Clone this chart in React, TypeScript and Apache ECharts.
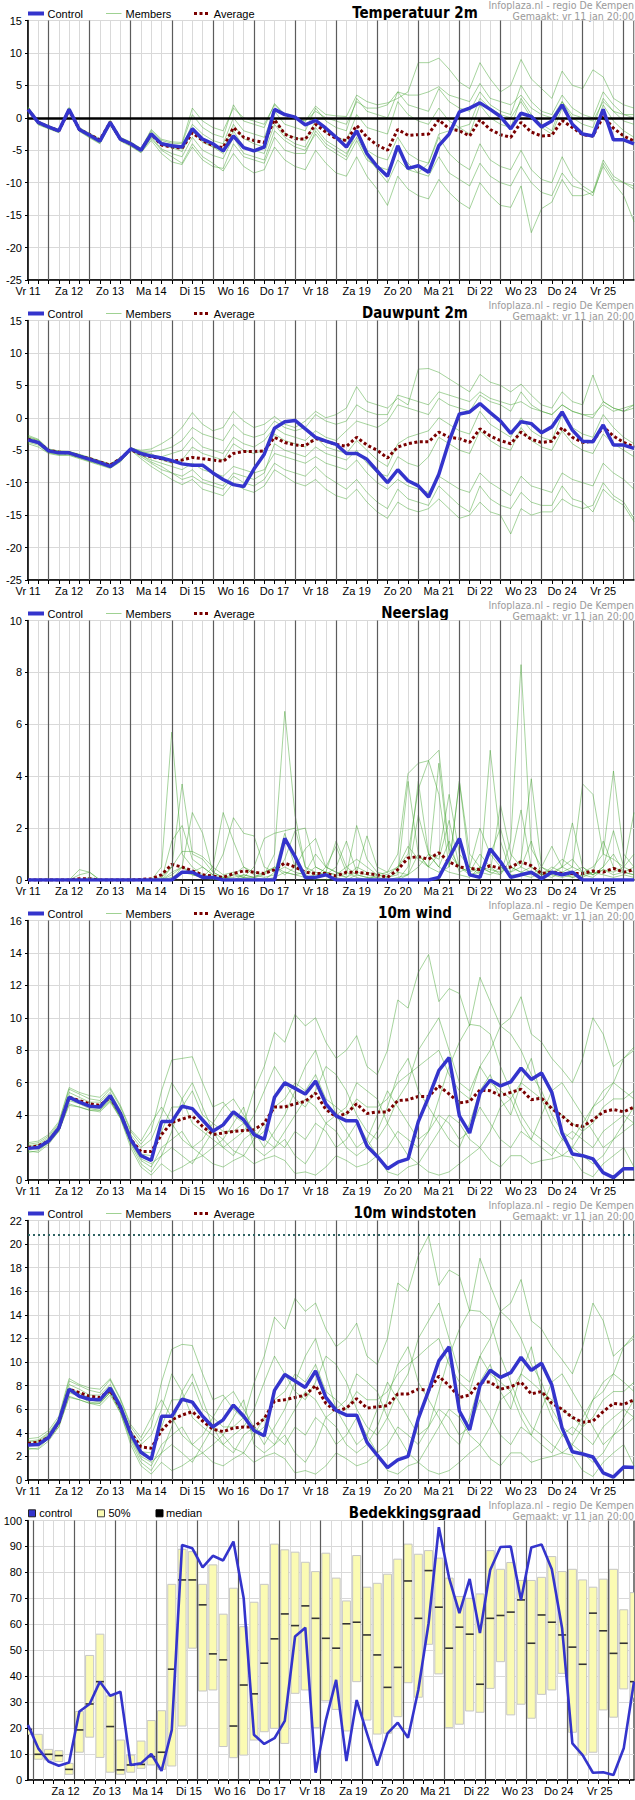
import React, { useEffect, useRef } from "react";
import * as echarts from "echarts";

// ---------- axis / time data ----------
const DAYS = ["Vr 11", "Za 12", "Zo 13", "Ma 14", "Di 15", "Wo 16", "Do 17", "Vr 18", "Za 19", "Zo 20", "Ma 21", "Di 22", "Wo 23", "Do 24", "Vr 25"];
// hours after Fri 11 jan 12:00, 6-hourly steps
const HOURS = Array.from({ length: 60 }, (_, i) => i * 6);
const X_MAX = 354;

const PANEL_TITLES = ["Temperatuur 2m", "Dauwpunt 2m", "Neerslag", "10m wind", "10m windstoten", "Bedekkingsgraad"];
const Y_MIN = [-25, -25, 0, 0, 0, 0];
const Y_MAX = [15, 15, 10, 16, 22, 100];
const Y_STEP = [5, 5, 2, 2, 2, 10];
const GUST_WARNING = 20.8;

// ---------- Temperatuur 2m ----------
const tempControl = [
  1.3, -0.7, -1.4, -2.0, 1.3, -1.8, -2.7, -3.6, -0.7, -3.3, -4.0, -5.0,
  -2.5, -4.0, -4.3, -4.5, -1.7, -3.3, -4.0, -5.1, -2.8, -4.6, -5.1, -4.5,
  1.3, 0.5, 0.1, -1.1, -0.4, -1.6, -3.0, -4.5, -2.0, -5.5, -7.5, -9.0,
  -4.3, -7.8, -7.4, -8.4, -4.3, -2.5, 0.9, 1.5, 2.3, 1.3, 0.2, -1.7,
  0.7, 0.2, -1.4, -0.5, 2.0, -1.0, -2.5, -2.8, 1.3, -3.4, -3.4, -4.0,
];
const tempAverage = [
  1.3, -0.7, -1.4, -2.0, 1.2, -1.8, -2.6, -3.4, -0.7, -3.3, -4.0, -5.0,
  -2.5, -4.2, -4.5, -4.7, -2.3, -3.5, -4.3, -4.6, -1.5, -3.0, -3.5, -3.8,
  -0.3, -2.5, -3.2, -3.3, -1.0, -2.2, -3.2, -3.5, -1.2, -3.0, -4.2, -5.0,
  -1.8, -2.7, -2.6, -2.5, -0.3, -1.7, -2.0, -2.8, -0.3, -1.8, -2.6, -3.0,
  -0.7, -2.2, -2.8, -2.7, -0.4, -1.5, -2.6, -2.8, 0.2, -1.6, -2.8, -3.6,
];
const tempMembers = [
  [1.6, -0.6, -1.3, -1.8, 1.5, -1.6, -2.5, -3.4, -0.5, -3.1, -3.8, -4.8,
    -2.0, -3.5, -3.9, -4.0, 0.5, -1.5, -2.5, -3.0, 2.0, -0.5, -1.0, -1.5,
    2.2, 0.5, 0.0, -0.5, 1.8, 0.5, 0.3, 0.2, 3.5, 2.5, 2.0, 2.3,
    3.0, 4.0, 8.5, 8.5, 9.2, 7.5, 5.5, 4.5, 8.5, 6.0, 4.0, 5.0,
    9.0, 6.0, 4.5, 3.0, 7.2, 5.0, 4.5, 7.4, 6.3, 3.0, 2.0, 1.5],
  [1.2, -1.0, -1.6, -2.2, 1.0, -2.0, -3.0, -3.9, -1.0, -3.5, -4.3, -5.3,
    -3.2, -5.0, -6.0, -7.0, -4.0, -6.0, -7.0, -8.2, -5.5, -7.5, -8.5, -8.0,
    -4.5, -6.5, -7.5, -8.0, -5.0, -7.0, -8.5, -9.0, -6.0, -9.0, -11.0, -13.5,
    -9.0, -11.0, -12.0, -12.5, -9.5, -11.5, -13.0, -14.0, -10.0, -12.0, -13.5, -13.8,
    -10.5, -17.7, -14.0, -13.0, -9.5, -12.0, -12.0, -11.5, -7.5, -10.0, -12.0, -16.0],
  [1.5, -0.7, -1.4, -2.0, 1.2, -1.9, -2.8, -3.7, -0.6, -3.2, -4.0, -5.0,
    -2.2, -3.8, -4.2, -4.4, -1.0, -2.5, -3.5, -4.0, 0.0, -2.0, -2.5, -3.0,
    1.0, -1.0, -1.5, -2.0, 1.5, -0.5, -1.5, -2.0, 3.0, 1.0, 0.5, 0.0,
    4.0, 2.0, 1.5, 1.0, 4.5, 2.5, 1.5, 1.0, 4.0, 2.0, 1.0, 0.5,
    5.0, 2.5, 1.0, 0.5, 3.5, 1.5, 0.5, 0.0, 4.0, 2.0, 0.5, 0.0],
  [1.4, -0.9, -1.5, -2.1, 1.1, -1.7, -2.7, -3.5, -0.8, -3.4, -4.1, -5.1,
    -3.0, -4.8, -5.5, -6.0, -3.0, -5.0, -5.8, -6.3, -3.0, -5.5, -6.0, -6.5,
    -2.0, -3.5, -4.5, -5.0, -2.5, -4.5, -5.5, -6.5, -3.5, -6.5, -7.5, -8.0,
    -5.0, -7.0, -8.5, -9.0, -6.0, -8.5, -9.5, -10.5, -7.0, -9.0, -10.0, -10.5,
    -7.5, -10.0, -11.5, -12.0, -8.5, -10.5, -11.0, -12.0, -7.0, -9.5, -10.0, -11.0],
  [1.3, -0.8, -1.5, -1.9, 1.3, -1.8, -2.6, -3.5, -0.7, -3.3, -3.9, -4.9,
    -2.6, -4.2, -4.6, -5.2, -2.0, -3.8, -4.5, -5.0, -1.0, -3.2, -4.0, -4.5,
    0.0, -2.5, -3.0, -3.5, -0.5, -2.0, -3.0, -3.5, 0.5, -1.5, -2.0, -2.5,
    2.5, 0.5, -0.5, -1.0, 1.5, -0.5, -1.5, -2.5, 2.0, 0.0, -1.0, -1.5,
    3.0, 0.5, -1.0, -2.0, 2.5, 0.0, -1.0, -1.5, 3.0, 1.0, -0.5, -1.0],
  [1.5, -0.7, -1.3, -2.0, 1.4, -1.7, -2.7, -3.6, -0.6, -3.3, -4.1, -5.0,
    -2.4, -4.0, -4.5, -4.8, -1.5, -3.5, -4.5, -5.5, -2.0, -4.5, -5.0, -5.5,
    -1.0, -3.0, -4.0, -4.5, -1.5, -3.5, -4.5, -5.5, -3.0, -6.0, -8.0, -10.0,
    -6.5, -8.0, -8.5, -7.0, -2.5, -2.0, -1.5, -1.0, 3.0, 1.5, 0.5, 0.0,
    2.5, 0.0, -1.5, -2.5, 1.5, -1.0, -2.5, -3.0, 2.0, -0.5, -2.0, -3.0],
  [1.7, -0.5, -1.2, -1.8, 1.6, -1.5, -2.4, -3.2, -0.4, -3.0, -3.7, -4.7,
    -1.8, -3.3, -3.7, -3.8, 1.5, -0.5, -1.5, -2.0, 1.5, 0.0, -0.5, -1.0,
    2.0, 0.5, 0.0, -0.5, 1.0, 0.0, -0.5, -1.0, 2.5, 1.5, 1.5, 2.0,
    4.0, 3.5, 3.5, 4.0, 4.8, 3.5, 3.0, 2.5, 5.3, 3.0, 2.5, 2.0,
    3.5, 1.5, 0.5, 0.0, 2.5, 0.5, 0.0, -0.5, 2.5, 1.0, 0.5, 0.5],
  [1.2, -1.1, -1.7, -2.3, 0.9, -2.1, -3.1, -4.0, -1.1, -3.6, -4.4, -5.4,
    -3.5, -5.5, -6.8, -7.2, -4.5, -6.5, -7.5, -7.8, -4.0, -6.0, -6.5, -7.0,
    -3.0, -5.0, -5.5, -5.5, -2.0, -4.0, -5.0, -6.0, -2.0, -5.0, -6.0, -6.5,
    -3.0, -5.5, -6.5, -7.0, -3.0, -5.5, -7.0, -8.0, -4.0, -6.5, -7.5, -8.0,
    -5.0, -8.0, -9.5, -10.0, -6.0, -9.0, -10.5, -11.5, -6.5, -9.0, -10.0, -10.5],
];

// ---------- Dauwpunt 2m ----------
const dewControl = [
  -3.4, -3.8, -5.1, -5.4, -5.4, -5.9, -6.4, -6.9, -7.5, -6.4, -4.8, -5.5,
  -5.9, -6.2, -6.6, -7.1, -7.3, -7.3, -8.5, -9.5, -10.3, -10.6, -7.9, -5.6,
  -1.6, -0.6, -0.4, -1.7, -3.0, -3.6, -4.1, -5.5, -5.5, -6.4, -8.2, -10.0,
  -8.0, -9.7, -10.5, -12.2, -8.7, -3.6, 0.6, 0.9, 2.2, 0.8, -0.5, -2.4,
  -0.6, -0.9, -2.3, -1.4, 0.9, -1.9, -3.6, -3.7, -1.1, -4.2, -4.2, -4.7,
];
const dewAverage = [
  -3.3, -3.8, -5.0, -5.3, -5.4, -5.9, -6.3, -6.8, -7.3, -6.3, -4.9, -5.6,
  -6.0, -6.3, -6.7, -6.5, -6.1, -6.3, -6.5, -6.7, -5.5, -5.2, -5.2, -5.1,
  -3.0, -3.8, -4.2, -4.3, -3.2, -3.6, -4.1, -4.4, -3.0, -4.2, -5.0, -6.2,
  -4.5, -4.0, -3.7, -3.7, -2.2, -3.0, -3.2, -3.8, -1.7, -2.8, -3.5, -4.0,
  -2.2, -3.3, -3.8, -3.6, -1.5, -3.0, -3.8, -3.6, -1.4, -2.8, -3.8, -4.5,
];
const dewMembers = [
  [-2.7, -3.3, -4.8, -5.1, -5.2, -5.6, -6.1, -6.6, -7.1, -6.1, -4.7, -5.0,
    -4.8, -4.0, -3.0, -1.5, 0.8, -1.0, -2.0, -1.5, 1.0, -0.5, -1.5, -1.0,
    0.2, -1.0, -1.5, -0.5, 1.0, 0.0, 0.5, 1.5, 4.8, 2.5, 2.0, 1.5,
    3.0, 2.0, 7.5, 7.6, 7.0, 6.0, 5.0, 4.0, 6.7, 5.5, 5.0, 4.0,
    5.2, 3.5, 2.0, 1.5, 4.0, 2.5, 2.0, 6.6, 2.5, 1.5, 1.0, 2.0],
  [-4.0, -4.5, -5.5, -5.8, -5.8, -6.3, -6.8, -7.3, -7.8, -6.8, -5.0, -6.3,
    -7.5, -8.5, -9.5, -10.3, -9.5, -11.0, -11.5, -12.0, -10.0, -11.0, -11.5, -10.5,
    -8.0, -9.0, -10.0, -10.5, -9.5, -11.0, -12.0, -12.5, -11.0, -13.0, -14.5, -15.5,
    -13.0, -14.0, -14.5, -14.0, -12.5, -14.0, -15.5, -15.0, -13.0, -14.5, -15.0, -17.9,
    -14.0, -15.0, -14.5, -14.5, -12.5, -13.5, -14.0, -13.5, -10.0, -12.0, -13.0, -15.5],
  [-3.2, -3.7, -5.0, -5.3, -5.3, -5.8, -6.3, -6.8, -7.3, -6.3, -4.8, -5.5,
    -5.8, -6.0, -5.5, -5.0, -3.0, -4.5, -5.0, -5.5, -3.0, -4.0, -4.5, -3.5,
    -1.5, -2.5, -3.0, -3.5, -2.0, -3.0, -3.5, -2.0, -0.5, -1.0, -1.5, -0.5,
    2.0, 1.5, 1.0, 0.5, 3.0, 2.0, 1.5, 1.0, 3.5, 2.5, 2.0, 1.0,
    4.0, 2.0, 1.0, 0.5, 2.0, 1.0, 0.5, 0.0, 2.5, 1.5, 1.0, 1.5],
  [-3.6, -4.0, -5.3, -5.6, -5.6, -6.1, -6.6, -7.1, -7.6, -6.6, -4.9, -5.8,
    -6.5, -7.0, -7.5, -8.0, -7.0, -8.0, -8.5, -9.0, -7.5, -8.0, -8.5, -8.0,
    -5.5, -6.0, -6.5, -7.0, -6.0, -7.0, -7.5, -8.0, -6.5, -8.5, -10.0, -11.0,
    -9.5, -10.5, -11.0, -11.5, -9.0, -10.0, -11.0, -11.5, -8.5, -10.0, -11.0, -12.0,
    -9.0, -10.5, -11.0, -11.5, -8.5, -9.5, -10.0, -10.5, -7.0, -8.5, -9.5, -11.0],
  [-3.0, -3.5, -4.9, -5.2, -5.2, -5.7, -6.2, -6.7, -7.2, -6.2, -4.6, -5.2,
    -5.5, -6.5, -7.0, -6.5, -4.5, -5.5, -6.0, -6.5, -4.0, -5.0, -5.5, -5.0,
    -2.5, -3.5, -4.0, -4.5, -3.0, -4.5, -5.0, -5.5, -3.5, -5.0, -6.5, -7.5,
    -4.0, -3.0, -2.5, -2.0, 0.0, -1.0, -2.0, -2.5, 1.0, -1.0, -2.0, -3.0,
    0.0, -2.0, -3.0, -3.5, 0.5, -1.5, -2.5, -3.0, 0.5, -1.5, -3.0, -4.0],
  [-3.3, -3.9, -5.2, -5.5, -5.5, -6.0, -6.5, -7.0, -7.4, -6.5, -4.8, -5.7,
    -6.8, -7.5, -8.5, -9.0, -8.0, -9.5, -10.0, -10.5, -8.5, -9.0, -9.5, -8.5,
    -4.0, -5.0, -5.5, -6.0, -4.5, -5.5, -6.0, -6.5, -5.0, -7.0, -8.5, -9.0,
    -6.0, -7.0, -7.5, -6.0, -3.0, -4.0, -5.0, -5.5, -2.0, -3.5, -4.5, -5.0,
    -1.5, -3.5, -4.5, -5.0, -2.0, -4.0, -5.0, -5.5, -2.5, -4.0, -5.0, -6.0],
  [-2.9, -3.4, -4.9, -5.2, -5.3, -5.7, -6.2, -6.7, -7.2, -6.2, -4.6, -5.3,
    -5.2, -5.0, -4.5, -3.5, -1.5, -2.5, -3.0, -3.5, -1.0, -2.5, -3.0, -2.5,
    -0.5, -1.5, -2.0, -1.5, 0.5, -0.5, -1.0, -0.5, 2.0, 1.0, 0.5, 0.5,
    3.5, 3.0, 2.5, 2.0, 4.0, 3.5, 3.0, 2.5, 4.0, 3.0, 2.5, 2.0,
    2.5, 1.5, 1.0, 0.5, 2.0, 1.0, 0.5, 0.5, 2.0, 1.0, 1.5, 2.0],
  [-3.8, -4.2, -5.4, -5.7, -5.7, -6.2, -6.7, -7.2, -7.7, -6.7, -5.0, -6.0,
    -7.0, -8.0, -8.5, -9.5, -9.0, -10.0, -10.5, -11.0, -9.0, -10.0, -10.5, -9.5,
    -7.0, -8.0, -8.5, -9.0, -7.5, -9.0, -10.0, -11.0, -9.5, -11.5, -13.0, -14.0,
    -11.0, -12.5, -13.0, -13.5, -10.5, -12.0, -13.5, -14.5, -10.5, -12.5, -13.5, -14.0,
    -11.5, -13.0, -13.5, -13.5, -10.5, -12.5, -13.0, -14.5, -11.0, -12.5, -13.5, -16.0],
];

// ---------- Neerslag ----------
const rainControl = [
  0, 0, 0, 0, 0, 0, 0, 0, 0, 0, 0, 0,
  0, 0, 0, 0.3, 0.3, 0.1, 0.1, 0, 0, 0, 0, 0,
  0, 1.6, 0.9, 0.1, 0.1, 0.2, 0, 0, 0, 0, 0, 0,
  0, 0, 0, 0, 0.1, 0.85, 1.6, 0.2, 0.1, 1.2, 0.7, 0.1,
  0.2, 0.3, 0.05, 0.3, 0.2, 0.3, 0, 0, 0, 0, 0, 0,
];
const rainAverage = [
  0, 0, 0, 0, 0, 0.05, 0.05, 0, 0, 0, 0, 0.02,
  0.05, 0.2, 0.6, 0.5, 0.35, 0.2, 0.15, 0.1, 0.25, 0.35, 0.3, 0.25,
  0.4, 0.65, 0.5, 0.3, 0.25, 0.25, 0.15, 0.3, 0.3, 0.25, 0.2, 0.1,
  0.4, 0.85, 0.9, 0.8, 1.05, 0.7, 0.5, 0.45, 0.4, 0.55, 0.45, 0.5,
  0.7, 0.55, 0.25, 0.3, 0.25, 0.25, 0.25, 0.35, 0.3, 0.45, 0.3, 0.4,
];
const rainMembers = [
  [0, 0, 0, 0, 0, 0, 0, 0, 0, 0, 0, 0,
    0, 0.5, 5.7, 1.0, 0.5, 0.2, 0.1, 0, 0, 0.2, 0.1, 0,
    0.3, 1.8, 0.5, 0.2, 0, 0, 0.1, 0, 0.2, 0.1, 0, 0,
    0, 0.5, 3.8, 1.0, 0.5, 1.5, 0.3, 0.5, 0.2, 5.0, 1.5, 0.3,
    0.5, 1.5, 0.2, 0.1, 0.3, 0.1, 0.2, 0.1, 0.4, 0.2, 0.3, 0.2],
  [0, 0, 0, 0, 0, 0.4, 0.3, 0, 0, 0, 0, 0,
    0, 0, 0.5, 3.7, 1.0, 0.8, 0.3, 0.1, 0.2, 0.5, 0.3, 0.2,
    1.0, 6.5, 2.5, 0.5, 0.3, 0.2, 0.5, 1.5, 0.3, 0.2, 0.1, 0,
    0.1, 0.2, 1.0, 0.5, 4.5, 1.0, 0.5, 0.3, 1.0, 0.5, 0.2, 0.8,
    2.7, 0.5, 0.2, 0.3, 0.5, 2.2, 0.5, 0.2, 0.5, 1.0, 0.3, 0.5],
  [0, 0, 0, 0, 0, 0.2, 0.3, 0, 0, 0, 0, 0,
    0, 0, 0.2, 0.5, 0.3, 0.5, 0.2, 1.0, 2.4, 1.8, 1.7, 0.5,
    0.3, 0.5, 0.3, 0.2, 0.5, 0.3, 1.5, 0.5, 0.2, 0.1, 0.1, 0,
    0, 0.2, 0.5, 1.0, 0.5, 0.3, 0.2, 0.1, 0.5, 0.3, 0.2, 1.5,
    8.3, 1.2, 0.5, 0.3, 0.2, 0.1, 0.2, 0.3, 1.5, 0.5, 0.3, 0.2],
  [0, 0, 0, 0, 0, 0, 0, 0, 0, 0, 0, 0,
    0, 0, 1.5, 2.1, 0.8, 0.5, 0.2, 0.1, 0.1, 0.2, 0.1, 0.3,
    0.5, 0.3, 0.2, 0.3, 1.0, 0.5, 0.3, 0.2, 2.1, 0.8, 0.3, 0.2,
    0.5, 1.0, 3.5, 4.6, 5.0, 1.2, 0.5, 0.3, 0.5, 0.4, 0.3, 0.5,
    0.3, 0.5, 0.2, 0.4, 0.8, 0.5, 0.3, 0.5, 1.0, 0.8, 0.5, 2.6],
  [0, 0, 0, 0, 0, 0, 0.1, 0, 0, 0, 0, 0,
    0, 0, 0.3, 0.5, 0.2, 0.1, 0.5, 2.6, 1.5, 0.5, 0.2, 0.1,
    0.2, 0.8, 1.9, 2.0, 0.5, 0.3, 0.2, 0.5, 0.8, 0.5, 0.2, 0.1,
    0.2, 3.8, 1.0, 0.5, 0.3, 0.5, 3.8, 1.0, 0.5, 0.3, 2.9, 1.0,
    0.5, 0.3, 0.2, 0.5, 0.3, 0.5, 3.7, 3.3, 1.0, 4.2, 1.0, 0.5],
  [0, 0, 0, 0, 0, 0, 0, 0, 0, 0, 0, 0,
    0, 0.1, 0.5, 1.1, 1.1, 0.9, 0.5, 0.2, 0.3, 0.1, 0.1, 0.2,
    0.5, 0.2, 0.5, 1.2, 1.6, 0.5, 0.3, 0.1, 0.3, 1.7, 0.5, 0.3,
    0.5, 1.3, 0.8, 0.5, 1.0, 3.3, 1.0, 0.5, 2.0, 1.0, 0.5, 0.3,
    0.8, 3.9, 0.5, 0.2, 0.5, 0.8, 0.3, 0.2, 0.5, 1.9, 0.5, 0.3],
  [0, 0, 0, 0, 0, 0, 0, 0, 0, 0, 0, 0,
    0, 0, 0.1, 0.3, 0.2, 0.1, 0, 0, 0.2, 0.1, 0, 0,
    0.1, 0.3, 0.2, 0.1, 0.2, 0.3, 0.2, 0.1, 0.5, 0.3, 0.2, 0.1,
    0.3, 0.2, 2.5, 1.0, 0.8, 2.3, 0.5, 0.2, 0.3, 0.2, 0.5, 0.2,
    0.2, 0.1, 0.3, 0.2, 0.1, 0.2, 0.1, 0.3, 0.2, 0.1, 0.2, 0.1],
  [0, 0, 0, 0, 0, 0, 0, 0, 0, 0, 0, 0,
    0, 0, 0, 0.5, 2.6, 1.8, 0.3, 0.1, 0, 0.1, 0.5, 1.6,
    1.8, 1.9, 2.0, 0.5, 0.1, 0.5, 1.3, 0.3, 0.1, 0, 0.2, 0.3,
    1.0, 4.1, 4.5, 4.6, 3.3, 0.5, 3.8, 0.5, 0.3, 1.0, 2.0, 0.5,
    0.3, 0.2, 0.5, 1.3, 0.5, 0.3, 0.5, 0.2, 0.4, 0.3, 0.5, 1.0],
];

// ---------- 10m wind ----------
const windControl = [
  1.95, 2.0, 2.4, 3.2, 5.1, 4.8, 4.55, 4.5, 5.2, 4.1, 2.5, 1.5,
  1.2, 3.6, 3.6, 4.55, 4.4, 3.7, 3.0, 3.4, 4.2, 3.7, 2.8, 2.5,
  5.1, 6.0, 5.65, 5.3, 6.1, 4.7, 3.95, 3.65, 3.65, 2.1, 1.45, 0.7,
  1.1, 1.3, 3.6, 5.1, 6.75, 7.55, 3.95, 2.9, 5.35, 6.15, 5.8, 6.05,
  6.9, 6.2, 6.6, 5.4, 2.9, 1.6, 1.5, 1.3, 0.45, 0.15, 0.7, 0.7,
];
const windAverage = [
  2.0, 2.1, 2.4, 3.2, 5.1, 4.9, 4.7, 4.6, 5.1, 4.1, 2.5, 1.75,
  1.75, 2.8, 3.55, 3.75, 3.95, 3.3, 2.8, 2.9, 3.0, 3.05, 3.1, 3.5,
  4.5, 4.5, 4.7, 4.85, 5.35, 4.35, 3.9, 4.1, 4.7, 4.1, 4.2, 4.2,
  4.9, 4.95, 5.15, 5.15, 5.8, 5.3, 4.75, 4.85, 5.55, 5.5, 5.2, 5.4,
  5.6, 4.95, 5.05, 4.4, 3.95, 3.4, 3.3, 3.7, 4.2, 4.35, 4.2, 4.5,
];
const windMembers = [
  [2.2, 2.3, 2.7, 3.5, 5.6, 5.3, 5.0, 4.9, 5.6, 4.5, 3.0, 2.2,
    3.0, 5.5, 7.4, 7.5, 7.6, 6.0, 4.5, 4.8, 4.0, 3.5, 5.5, 7.0,
    9.1, 8.5, 10.2, 9.5, 10.0, 8.5, 7.5, 8.0, 8.9, 7.0, 6.5, 8.0,
    11.1, 10.6, 12.8, 13.9, 11.0, 11.8, 11.5, 9.5, 12.5, 11.0, 9.5, 10.0,
    11.3, 9.0, 8.5, 7.5, 6.8, 6.0, 7.5, 10.0, 9.0, 7.0, 7.5, 8.2],
  [1.8, 1.7, 2.2, 3.0, 4.6, 4.5, 4.3, 4.2, 4.8, 3.8, 2.0, 0.8,
    0.3, 1.0, 0.5, 0.8, 1.2, 1.5, 1.0, 0.8, 1.2, 1.5, 1.0, 1.3,
    1.5, 1.2, 0.4, 0.5, 0.3, 0.8, 1.5, 1.2, 0.8, 1.0, 1.5, 0.5,
    0.3, 0.8, 1.0, 0.5, 0.3, 0.5, 1.0, 1.5, 2.0, 1.2, 0.8, 1.5,
    1.5, 1.0, 1.2, 1.3, 1.5, 1.4, 0.5, 0.2, 1.0, 1.5, 2.0, 0.8],
  [2.0, 2.1, 2.5, 3.3, 5.2, 4.9, 4.6, 4.5, 5.1, 4.0, 2.6, 1.6,
    1.5, 3.0, 4.5, 4.5, 5.5, 4.0, 3.5, 3.0, 3.0, 3.5, 2.5, 3.0,
    4.5, 5.0, 6.0, 5.5, 6.5, 5.0, 4.5, 4.0, 5.0, 4.5, 4.5, 5.0,
    6.0, 6.5, 7.0, 7.5, 8.0, 6.5, 5.5, 5.0, 7.0, 6.0, 5.5, 5.0,
    6.0, 5.5, 5.0, 4.5, 4.0, 3.5, 3.0, 3.5, 4.5, 5.0, 5.0, 5.5],
  [1.9, 2.0, 2.4, 3.1, 4.9, 4.7, 4.4, 4.3, 4.9, 3.9, 2.3, 1.2,
    0.8, 2.0, 2.5, 3.0, 2.0, 1.5, 2.0, 2.5, 1.8, 1.5, 2.5, 3.5,
    2.5, 2.0, 3.0, 2.5, 3.5, 3.0, 2.0, 2.5, 3.5, 2.5, 1.5, 2.0,
    3.0, 2.5, 2.0, 3.0, 4.0, 3.5, 2.5, 3.0, 4.5, 3.5, 2.5, 2.0,
    3.0, 2.5, 2.0, 1.5, 2.5, 3.0, 2.5, 2.0, 3.0, 3.5, 4.0, 3.5],
  [2.1, 2.2, 2.6, 3.4, 5.4, 5.1, 4.8, 4.8, 5.4, 4.3, 2.8, 2.0,
    2.5, 4.0, 6.0, 5.0, 3.5, 3.0, 2.5, 2.0, 2.5, 3.0, 4.0, 5.5,
    7.0, 6.0, 5.0, 4.5, 5.5, 7.0, 6.5, 5.5, 4.0, 3.0, 2.5, 3.5,
    5.0, 6.0, 8.0, 9.0, 10.0, 8.0, 6.0, 5.5, 7.0, 8.0, 9.5, 9.0,
    8.0, 6.5, 5.5, 4.0, 3.0, 2.5, 3.5, 4.5, 5.0, 6.0, 7.5, 8.0],
  [2.0, 1.9, 2.3, 3.2, 5.0, 4.8, 4.5, 4.4, 5.0, 3.9, 2.4, 1.3,
    1.0, 1.5, 3.0, 5.0, 6.0, 4.5, 3.0, 2.0, 1.5, 2.5, 3.0, 2.0,
    3.0, 4.0, 5.5, 7.0, 8.0, 6.0, 4.0, 3.0, 2.0, 2.5, 4.0, 5.5,
    4.5, 3.5, 2.5, 3.0, 5.0, 7.0, 8.5, 9.6, 9.5, 9.0, 7.0, 5.5,
    4.0, 3.0, 2.5, 2.0, 1.5, 2.0, 3.0, 4.5, 5.5, 6.0, 5.5, 5.0],
  [2.3, 2.4, 2.8, 3.6, 5.7, 5.4, 5.2, 5.1, 5.7, 4.6, 3.1, 2.4,
    3.5, 4.5, 3.5, 2.5, 2.0, 2.5, 3.5, 4.5, 5.0, 4.0, 3.0, 2.5,
    2.0, 3.0, 4.0, 5.0, 4.5, 3.5, 3.0, 2.0, 1.5, 2.0, 3.0, 4.5,
    6.5, 7.5, 5.5, 4.5, 3.5, 2.5, 2.0, 3.5, 5.5, 6.5, 5.0, 4.0,
    6.0, 7.5, 5.0, 3.5, 2.5, 2.0, 1.5, 1.0, 1.5, 2.5, 3.5, 4.5],
  [1.7, 1.8, 2.3, 3.0, 4.7, 4.5, 4.3, 4.3, 4.9, 3.8, 2.2, 1.0,
    0.5, 1.5, 2.0, 1.5, 1.0, 2.0, 3.0, 2.5, 3.5, 4.5, 2.0, 1.5,
    2.0, 2.5, 1.5, 1.0, 2.0, 3.5, 4.0, 4.5, 6.0, 5.5, 5.0, 3.5,
    2.5, 1.5, 1.0, 2.0, 3.0, 4.0, 3.5, 2.5, 2.0, 3.0, 4.5, 5.0,
    3.5, 2.5, 4.0, 5.5, 6.0, 5.0, 4.0, 3.0, 2.0, 2.5, 3.0, 3.5],
];

// ---------- 10m windstoten ----------
const gustControl = [
  2.97, 3.0, 3.6, 4.95, 7.7, 7.1, 6.85, 6.8, 7.8, 6.2, 3.9, 2.35,
  1.75, 5.4, 5.4, 6.85, 6.6, 5.4, 4.5, 5.1, 6.35, 5.4, 4.2, 3.75,
  7.6, 8.95, 8.4, 7.85, 9.25, 7.0, 5.9, 5.5, 5.5, 3.2, 2.1, 1.05,
  1.7, 2.0, 5.2, 7.55, 10.1, 11.3, 5.85, 4.25, 8.0, 9.3, 8.7, 9.1,
  10.4, 9.3, 9.9, 8.05, 4.4, 2.4, 2.2, 1.95, 0.6, 0.25, 1.1, 1.05,
];
const gustAverage = [
  3.1, 3.2, 3.6, 4.9, 7.7, 7.4, 7.1, 7.0, 7.6, 6.1, 4.0, 2.8,
  2.7, 4.2, 5.1, 5.5, 5.8, 5.0, 4.3, 4.1, 4.4, 4.5, 4.5, 5.2,
  6.7, 6.8, 7.0, 7.2, 8.0, 6.5, 5.8, 6.1, 6.9, 6.1, 6.2, 6.3,
  7.3, 7.3, 7.7, 7.6, 8.8, 8.0, 7.0, 7.2, 8.3, 8.3, 7.7, 7.9,
  8.3, 7.3, 7.5, 6.5, 6.0, 5.3, 4.9, 5.0, 5.8, 6.5, 6.4, 6.8,
];
const gustMembers = [
  [3.3, 3.4, 4.0, 5.2, 8.4, 8.0, 7.6, 7.4, 8.5, 6.8, 4.5, 3.3,
    4.5, 8.3, 11.1, 11.5, 11.4, 9.0, 6.8, 7.2, 6.0, 5.2, 8.2, 10.5,
    13.8, 12.8, 15.4, 14.3, 15.0, 12.8, 11.3, 12.0, 13.3, 10.5, 9.8, 12.0,
    16.7, 16.0, 19.0, 20.7, 16.5, 17.8, 17.3, 14.3, 18.8, 16.5, 14.3, 15.0,
    17.0, 13.5, 12.8, 11.3, 10.2, 9.0, 11.3, 15.0, 13.5, 10.5, 11.3, 12.3],
  [2.7, 2.6, 3.3, 4.5, 7.0, 6.8, 6.5, 6.3, 7.2, 5.7, 3.0, 1.2,
    0.5, 1.5, 0.8, 1.2, 1.8, 2.3, 1.5, 1.2, 1.8, 2.3, 1.5, 2.0,
    2.3, 1.8, 0.6, 0.8, 0.5, 1.2, 2.3, 1.8, 1.2, 1.5, 2.3, 0.8,
    0.5, 1.2, 1.5, 0.8, 0.5, 0.8, 1.5, 2.3, 3.0, 1.8, 1.2, 2.3,
    2.3, 1.5, 1.8, 2.0, 2.3, 2.1, 0.8, 0.3, 1.5, 2.3, 3.0, 1.2],
  [3.0, 3.2, 3.8, 5.0, 7.8, 7.4, 6.9, 6.8, 7.7, 6.0, 3.9, 2.4,
    2.3, 4.5, 6.8, 6.8, 8.3, 6.0, 5.3, 4.5, 4.5, 5.3, 3.8, 4.5,
    6.8, 7.5, 9.0, 8.3, 9.8, 7.5, 6.8, 6.0, 7.5, 6.8, 6.8, 7.5,
    9.0, 9.8, 10.5, 11.3, 12.0, 9.8, 8.3, 7.5, 10.5, 9.0, 8.3, 7.5,
    9.0, 8.3, 7.5, 6.8, 6.0, 5.3, 4.5, 5.3, 6.8, 7.5, 7.5, 8.3],
  [2.9, 3.0, 3.6, 4.7, 7.4, 7.1, 6.6, 6.5, 7.4, 5.9, 3.5, 1.8,
    1.2, 3.0, 3.8, 4.5, 3.0, 2.3, 3.0, 3.8, 2.7, 2.3, 3.8, 5.3,
    3.8, 3.0, 4.5, 3.8, 5.3, 4.5, 3.0, 3.8, 5.3, 3.8, 2.3, 3.0,
    4.5, 3.8, 3.0, 4.5, 6.0, 5.3, 3.8, 4.5, 6.8, 5.3, 3.8, 3.0,
    4.5, 3.8, 3.0, 2.3, 3.8, 4.5, 3.8, 3.0, 4.5, 5.3, 6.0, 5.3],
  [3.2, 3.3, 3.9, 5.1, 8.1, 7.7, 7.2, 7.2, 8.1, 6.5, 4.2, 3.0,
    3.8, 6.0, 9.0, 7.5, 5.3, 4.5, 3.8, 3.0, 3.8, 4.5, 6.0, 8.3,
    10.5, 9.0, 7.5, 6.8, 8.3, 10.5, 9.8, 8.3, 6.0, 4.5, 3.8, 5.3,
    7.5, 9.0, 12.0, 13.5, 15.0, 12.0, 9.0, 8.3, 10.5, 12.0, 14.3, 13.5,
    12.0, 9.8, 8.3, 6.0, 4.5, 3.8, 5.3, 6.8, 7.5, 9.0, 11.3, 12.0],
  [3.0, 2.9, 3.5, 4.8, 7.5, 7.2, 6.8, 6.6, 7.5, 5.9, 3.6, 2.0,
    1.5, 2.3, 4.5, 7.5, 9.0, 6.8, 4.5, 3.0, 2.3, 3.8, 4.5, 3.0,
    4.5, 6.0, 8.3, 10.5, 12.0, 9.0, 6.0, 4.5, 3.0, 3.8, 6.0, 8.3,
    6.8, 5.3, 3.8, 4.5, 7.5, 10.5, 12.8, 14.4, 14.3, 13.5, 10.5, 8.3,
    6.0, 4.5, 3.8, 3.0, 2.3, 3.0, 4.5, 6.8, 8.3, 9.0, 8.3, 7.5],
  [3.5, 3.6, 4.2, 5.4, 8.6, 8.1, 7.8, 7.7, 8.6, 6.9, 4.7, 3.6,
    5.3, 6.8, 5.3, 3.8, 3.0, 3.8, 5.3, 6.8, 7.5, 6.0, 4.5, 3.8,
    3.0, 4.5, 6.0, 7.5, 6.8, 5.3, 4.5, 3.0, 2.3, 3.0, 4.5, 6.8,
    9.8, 11.3, 8.3, 6.8, 5.3, 3.8, 3.0, 5.3, 8.3, 9.8, 7.5, 6.0,
    9.0, 11.3, 7.5, 5.3, 3.8, 3.0, 2.3, 1.5, 2.3, 3.8, 5.3, 6.8],
  [2.6, 2.7, 3.5, 4.5, 7.1, 6.8, 6.5, 6.5, 7.4, 5.7, 3.3, 1.5,
    0.8, 2.3, 3.0, 2.3, 1.5, 3.0, 4.5, 3.8, 5.3, 6.8, 3.0, 2.3,
    3.0, 3.8, 2.3, 1.5, 3.0, 5.3, 6.0, 6.8, 9.0, 8.3, 7.5, 5.3,
    3.8, 2.3, 1.5, 3.0, 4.5, 6.0, 5.3, 3.8, 3.0, 4.5, 6.8, 7.5,
    5.3, 3.8, 6.0, 8.3, 9.0, 7.5, 6.0, 4.5, 3.0, 3.8, 4.5, 5.3],
];

// ---------- Bedekkingsgraad ----------
const cloudControl = [
  21.2, 12.2, 7.1, 5.5, 6.7, 26.4, 29.3, 37.9, 32.5, 34.0,
  5.8, 6.4, 10.0, 3.5, 19.3, 90.6, 89.3, 81.9, 86.4, 84.6,
  91.9, 70.0, 17.4, 13.9, 16.1, 22.8, 55.3, 58.7, 2.8, 23.1,
  38.6, 7.3, 30.8, 18.0, 5.5, 18.0, 22.1, 16.3, 34.7, 60.4,
  97.4, 77.8, 64.3, 77.5, 56.6, 80.9, 89.8, 90.0, 69.4, 89.6,
  90.8, 81.2, 58.5, 14.1, 9.6, 2.8, 3.0, 1.9, 12.2, 37.9,
];
const cloudLow = [
  17.6, 8.0, 7.7, 7.1, 2.2, 10.7, 16.5, 8.7, 3.0, 2.2,
  3.0, 4.5, 5.8, 4.1, 5.4, 20.8, 50.8, 34.3, 34.7, 12.9,
  8.6, 9.6, 15.4, 18.6, 19.9, 14.1, 33.4, 34.7, 20.2, 30.5,
  27.2, 18.9, 37.9, 23.1, 17.7, 18.0, 24.4, 37.5, 31.9, 52.3,
  40.9, 20.2, 21.5, 26.6, 26.1, 35.3, 45.6, 25.1, 29.2, 23.8,
  33.0, 34.7, 41.1, 18.4, 9.6, 10.7, 27.0, 24.2, 35.1, 31.7,
];
const cloudHigh = [
  19.9, 17.6, 11.8, 11.3, 6.4, 26.4, 48.0, 56.2, 32.4, 15.4,
  9.6, 15.0, 22.9, 26.7, 75.4, 88.9, 88.0, 75.4, 82.9, 63.9,
  73.9, 59.1, 68.5, 75.4, 90.9, 88.7, 87.8, 83.9, 80.3, 87.4,
  77.8, 69.0, 86.5, 74.3, 75.8, 79.3, 85.1, 90.9, 87.0, 88.4,
  85.5, 77.8, 70.7, 70.0, 71.7, 88.4, 81.2, 83.8, 76.9, 76.9,
  78.1, 86.1, 80.3, 81.2, 77.1, 74.3, 77.4, 81.2, 65.6, 72.2,
];
const cloudMedian = [
  19.5, 9.9, 9.9, 9.4, 4.1, 19.3, 29.3, 37.9, 20.6, 3.9,
  5.8, 6.0, 9.0, 10.7, 42.7, 77.1, 77.1, 67.5, 48.6, 46.3,
  20.8, 36.6, 33.2, 45.0, 54.4, 64.0, 59.5, 67.1, 62.3, 54.6,
  50.8, 60.2, 60.8, 55.9, 48.2, 35.7, 43.4, 76.7, 62.3, 80.7,
  66.6, 50.8, 58.9, 56.2, 36.9, 62.3, 63.4, 64.7, 69.4, 52.7,
  63.6, 60.8, 55.9, 51.2, 44.6, 64.3, 57.5, 48.8, 52.7, 37.9,
];

// ---------- styling ----------
const FONT = "'Liberation Sans', Arial, Helvetica, sans-serif";
const NARROW = "'Liberation Sans Narrow', 'Arial Narrow', 'DejaVu Sans Condensed', 'Liberation Sans', Arial, sans-serif";
const BLUE = "#3434cc";
const DARKRED = "#7a0000";
const MEMBER = "rgba(70,165,50,0.48)";
const MEMBER_KEY = "#9fd292";
const GRID_C = "#d9d9d9";
const DAY_C = "#5c5c5c";
const BOX_FILL = "#fbfbb3";
const BOX_EDGE = "#c6c6c6";

const PH = 300;
const TOP = 20.5;
const PLOT_H = 259.5;
const LEFT = 28;
const RIGHT = 1;
const BOX_HOURS = 4.7;

const ENSEMBLES = [
  { control: tempControl, avg: tempAverage, members: tempMembers },
  { control: dewControl, avg: dewAverage, members: dewMembers },
  { control: rainControl, avg: rainAverage, members: rainMembers },
  { control: windControl, avg: windAverage, members: windMembers },
  { control: gustControl, avg: gustAverage, members: gustMembers },
];

function pts(arr: number[]) {
  return arr.map((v, i) => [HOURS[i], v]);
}

function range(start: number, end: number, step: number) {
  const out: number[] = [];
  for (let v = start; v <= end + 1e-9; v += step) out.push(v);
  return out;
}

function markLines(data: any[]) {
  return {
    silent: true,
    symbol: ["none", "none"],
    label: { show: false },
    emphasis: { disabled: true },
    animation: false,
    data,
  };
}

function buildOption() {
  const grids: any[] = [];
  const xAxes: any[] = [];
  const yAxes: any[] = [];
  const series: any[] = [];
  const graphics: any[] = [];

  for (let k = 0; k < 6; k++) {
    const y0 = k * PH;
    grids.push({
      left: LEFT,
      right: RIGHT,
      top: y0 + TOP,
      height: PLOT_H,
      show: true,
      borderColor: "#000",
      borderWidth: 1,
      backgroundColor: "transparent",
      containLabel: false,
      outerBoundsMode: "none",
    });
    const isCloud = k === 5;
    xAxes.push({
      gridIndex: k,
      type: "value",
      min: 0,
      max: X_MAX,
      interval: 6,
      axisLine: { show: true, onZero: false, lineStyle: { color: "#000", width: 1.5 } },
      axisTick: isCloud
        ? { show: true, length: 4, customValues: range(3, X_MAX, 6), lineStyle: { color: "#000" } }
        : { show: true, length: 4, lineStyle: { color: "#000" } },
      axisLabel: isCloud
        ? {
            show: true,
            customValues: range(22, 334, 24),
            formatter: (v: number) => DAYS[Math.round((v - 22) / 24) + 1] || "",
            fontSize: 11,
            fontFamily: FONT,
            color: "#000",
            margin: 5,
          }
        : {
            show: true,
            showMinLabel: true,
            showMaxLabel: false,
            formatter: (v: number) => (Math.abs(v % 24) < 1e-6 ? DAYS[Math.round(v / 24)] || "" : ""),
            fontSize: 11,
            fontFamily: FONT,
            color: "#000",
            margin: 5,
          },
      splitLine: { show: !isCloud, lineStyle: { color: GRID_C, width: 1 } },
    });
    yAxes.push({
      gridIndex: k,
      type: "value",
      min: Y_MIN[k],
      max: Y_MAX[k],
      interval: Y_STEP[k],
      axisLine: { show: true, onZero: false, lineStyle: { color: "#000", width: 1.5 } },
      axisTick: { show: true, length: 3, lineStyle: { color: "#000" } },
      axisLabel: { fontSize: 11, fontFamily: FONT, color: "#000", margin: 6 },
      splitLine: { show: true, lineStyle: { color: GRID_C, width: 1 } },
    });

    // vertical day lines (and 6h lines for cloud panel)
    const dayLineData = isCloud
      ? [
          ...range(9, X_MAX, 6)
            .filter((h) => (h - 3) % 24 !== 0)
            .map((h) => ({ xAxis: h, lineStyle: { color: GRID_C, width: 1, type: "solid" } })),
          ...range(3, X_MAX, 24).map((h) => ({ xAxis: h, lineStyle: { color: DAY_C, width: 1.2, type: "solid" } })),
        ]
      : range(12, X_MAX, 24).map((h) => ({ xAxis: h, lineStyle: { color: DAY_C, width: 1.2, type: "solid" } }));
    series.push({
      type: "line",
      xAxisIndex: k,
      yAxisIndex: k,
      data: [],
      z: 1,
      silent: true,
      markLine: markLines(dayLineData),
    });

    // header texts
    graphics.push({
      type: "text",
      x: 634,
      y: y0 + 5.2,
      silent: true,
      style: { text: "Infoplaza.nl - regio De Kempen", fill: "#9a9a9a", font: `10.5px ${NARROW}`, lineHeight: 10.5, textAlign: "right", textVerticalAlign: "middle" },
    });
    graphics.push({
      type: "text",
      x: 634,
      y: y0 + 15.8,
      silent: true,
      style: { text: "Gemaakt: vr 11 jan 20:00", fill: "#9a9a9a", font: `10.5px ${NARROW}`, lineHeight: 10.5, textAlign: "right", textVerticalAlign: "middle" },
    });
    graphics.push({
      type: "text",
      x: 415,
      y: y0 + 12.5,
      silent: true,
      style: { text: PANEL_TITLES[k], fill: "#000", font: `bold 15px ${NARROW}`, textAlign: "center", textVerticalAlign: "middle" },
    });

    if (!isCloud) {
      const ly = y0 + 13.5;
      graphics.push(
        { type: "line", silent: true, shape: { x1: 28, y1: ly, x2: 44, y2: ly }, style: { stroke: BLUE, lineWidth: 4 } },
        { type: "text", silent: true, x: 47.5, y: ly, style: { text: "Control", fill: "#000", font: `11px ${FONT}`, textVerticalAlign: "middle" } },
        { type: "line", silent: true, shape: { x1: 106, y1: ly, x2: 121.5, y2: ly }, style: { stroke: MEMBER_KEY, lineWidth: 1 } },
        { type: "text", silent: true, x: 125.5, y: ly, style: { text: "Members", fill: "#000", font: `11px ${FONT}`, textVerticalAlign: "middle" } },
        { type: "line", silent: true, shape: { x1: 194, y1: ly, x2: 209, y2: ly }, style: { stroke: DARKRED, lineWidth: 3, lineDash: [3, 2.5] } },
        { type: "text", silent: true, x: 213.8, y: ly, style: { text: "Average", fill: "#000", font: `11px ${FONT}`, textVerticalAlign: "middle" } }
      );
    } else {
      const ly = y0 + 13.3;
      graphics.push(
        { type: "rect", silent: true, shape: { x: 28.5, y: ly - 3.5, width: 7, height: 7 }, style: { fill: BLUE, stroke: "#222", lineWidth: 1 } },
        { type: "text", silent: true, x: 39.3, y: ly, style: { text: "control", fill: "#000", font: `11px ${FONT}`, textVerticalAlign: "middle" } },
        { type: "rect", silent: true, shape: { x: 97.5, y: ly - 3.5, width: 7, height: 7 }, style: { fill: BOX_FILL, stroke: "#444", lineWidth: 1 } },
        { type: "text", silent: true, x: 108.5, y: ly, style: { text: "50%", fill: "#000", font: `11px ${FONT}`, textVerticalAlign: "middle" } },
        { type: "rect", silent: true, shape: { x: 156, y: ly - 3.5, width: 7, height: 7 }, style: { fill: "#000", stroke: "#000", lineWidth: 1 } },
        { type: "text", silent: true, x: 166, y: ly, style: { text: "median", fill: "#000", font: `11px ${FONT}`, textVerticalAlign: "middle" } }
      );
    }
  }

  // ensemble panels
  ENSEMBLES.forEach((e, k) => {
    e.members.forEach((m) => {
      series.push({
        type: "line",
        xAxisIndex: k,
        yAxisIndex: k,
        data: pts(m),
        showSymbol: false,
        symbol: "none",
        silent: true,
        z: 2,
        lineStyle: { color: MEMBER, width: 1 },
      });
    });
    if (k === 0) {
      series.push({
        type: "line",
        xAxisIndex: k,
        yAxisIndex: k,
        data: [],
        z: 3,
        silent: true,
        markLine: markLines([{ yAxis: 0, lineStyle: { color: "#000", width: 2.5, type: "solid" } }]),
      });
    }
    if (k === 4) {
      series.push({
        type: "line",
        xAxisIndex: k,
        yAxisIndex: k,
        data: [],
        z: 3,
        silent: true,
        markLine: markLines([{ yAxis: GUST_WARNING, lineStyle: { color: "#2f6363", width: 2, type: [2, 3] } }]),
      });
    }
    series.push({
      type: "line",
      xAxisIndex: k,
      yAxisIndex: k,
      data: pts(e.avg),
      showSymbol: false,
      symbol: "none",
      silent: true,
      z: 4,
      lineStyle: { color: DARKRED, width: 3, type: [3, 2.5] },
    });
    series.push({
      type: "line",
      xAxisIndex: k,
      yAxisIndex: k,
      data: pts(e.control),
      showSymbol: false,
      symbol: "none",
      silent: true,
      z: 5,
      lineStyle: { color: BLUE, width: 3.5 },
    });
  });

  // cloud cover boxes
  series.push({
    type: "custom",
    xAxisIndex: 5,
    yAxisIndex: 5,
    z: 3,
    silent: true,
    data: HOURS.map((h, i) => [h, cloudLow[i], cloudHigh[i], cloudMedian[i]]),
    encode: { x: 0, y: [1, 2, 3] },
    renderItem: (params: any, api: any) => {
      const t = api.value(0);
      const lo = api.coord([t, api.value(1)]);
      const hi = api.coord([t, api.value(2)]);
      const md = api.coord([t, api.value(3)]);
      const w = api.size([BOX_HOURS, 0])[0];
      const cs = params.coordSys;
      return {
        type: "group",
        clipPath: { type: "rect", shape: { x: cs.x, y: cs.y, width: cs.width, height: cs.height } },
        children: [
          {
            type: "rect",
            shape: { x: hi[0] - w / 2, y: hi[1], width: w, height: lo[1] - hi[1] },
            style: { fill: BOX_FILL, stroke: BOX_EDGE, lineWidth: 1 },
          },
          {
            type: "line",
            shape: { x1: md[0] - w / 2, y1: md[1], x2: md[0] + w / 2, y2: md[1] },
            style: { stroke: "#333", lineWidth: 1.6 },
          },
        ],
      };
    },
  });
  series.push({
    type: "line",
    xAxisIndex: 5,
    yAxisIndex: 5,
    data: pts(cloudControl),
    showSymbol: false,
    symbol: "none",
    silent: true,
    z: 5,
    lineStyle: { color: BLUE, width: 2.6 },
  });

  return {
    animation: false,
    backgroundColor: "#fff",
    textStyle: { fontFamily: FONT },
    grid: grids,
    xAxis: xAxes,
    yAxis: yAxes,
    series,
    graphic: graphics,
  };
}

export default function App() {
  const ref = useRef<HTMLDivElement>(null);
  useEffect(() => {
    if (!ref.current) return;
    const chart = echarts.init(ref.current, null, { renderer: "svg", width: 635, height: 1800 });
    chart.setOption(buildOption() as any);
    return () => chart.dispose();
  }, []);
  return (
    <div
      ref={ref}
      style={{ position: "absolute", left: 0, top: 0, width: 635, height: 1800, background: "#fff" }}
    />
  );
}
